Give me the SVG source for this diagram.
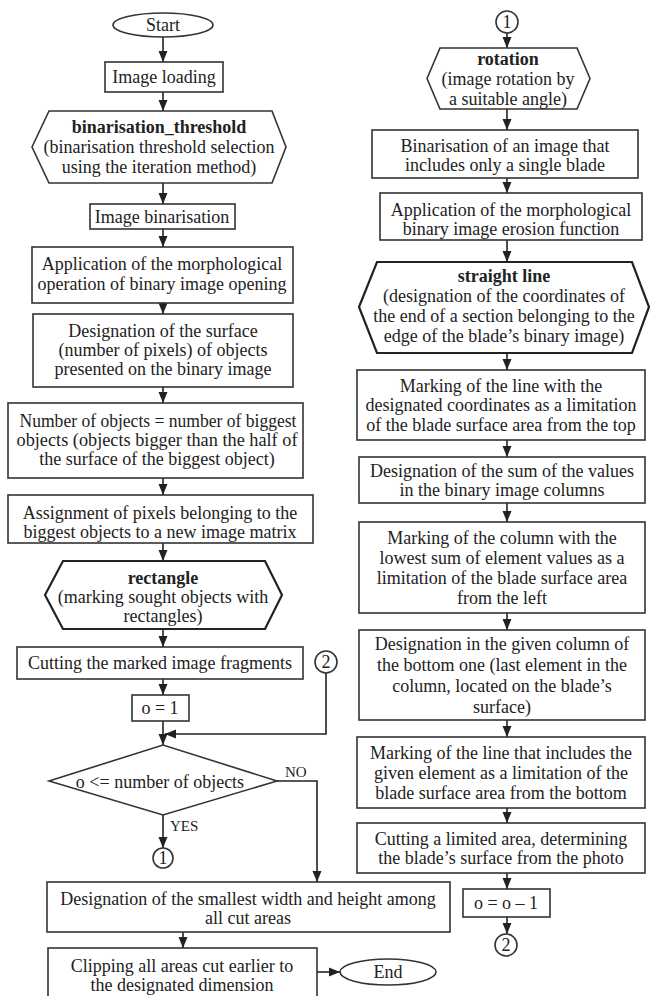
<svg xmlns="http://www.w3.org/2000/svg" width="650" height="996" viewBox="0 0 650 996">
<defs>
<marker id="ah" markerUnits="userSpaceOnUse" markerWidth="11" markerHeight="11" viewBox="0 0 11 11" refX="11" refY="5.5" orient="auto">
<path d="M0,1 L11,5.5 L0,10 Z" fill="#222"/>
</marker>
</defs>
<style>
.b{fill:#fff;stroke:#333;stroke-width:1.6}
.h{fill:#fff;stroke:#222;stroke-width:2.2}
.c{fill:none;stroke:#222;stroke-width:1.6}
text{font-family:"Liberation Serif","Times New Roman",serif;font-size:18px;fill:#222;text-anchor:middle;dominant-baseline:central}
.bd{font-weight:bold}
.s{text-anchor:start;font-size:15px}
</style>
<rect width="650" height="996" fill="#fff"/>
<g id="connectors">
<line class="c" x1="163" y1="37" x2="163" y2="62" marker-end="url(#ah)"/>
<line class="c" x1="163" y1="92" x2="163" y2="111" marker-end="url(#ah)"/>
<line class="c" x1="163" y1="183" x2="163" y2="204" marker-end="url(#ah)"/>
<line class="c" x1="163" y1="229" x2="163" y2="247" marker-end="url(#ah)"/>
<line class="c" x1="163" y1="303" x2="163" y2="314" marker-end="url(#ah)"/>
<line class="c" x1="163" y1="387" x2="163" y2="403" marker-end="url(#ah)"/>
<line class="c" x1="163" y1="478" x2="163" y2="495" marker-end="url(#ah)"/>
<line class="c" x1="163" y1="543" x2="163" y2="561" marker-end="url(#ah)"/>
<line class="c" x1="163" y1="629" x2="163" y2="647" marker-end="url(#ah)"/>
<line class="c" x1="163" y1="679" x2="163" y2="695" marker-end="url(#ah)"/>
<line class="c" x1="163" y1="721" x2="163" y2="745" marker-end="url(#ah)"/>
<polyline class="c" points="326,673 326,734 165,734" marker-end="url(#ah)"/>
<polyline class="c" points="277,781 317,781 317,882" marker-end="url(#ah)"/>
<line class="c" x1="163" y1="815" x2="163" y2="848" marker-end="url(#ah)"/>
<line class="c" x1="183" y1="932" x2="183" y2="948" marker-end="url(#ah)"/>
<line class="c" x1="317" y1="972" x2="340" y2="972" marker-end="url(#ah)"/>
<line class="c" x1="507" y1="33" x2="507" y2="48" marker-end="url(#ah)"/>
<line class="c" x1="507" y1="109" x2="507" y2="130" marker-end="url(#ah)"/>
<line class="c" x1="507" y1="178" x2="507" y2="193" marker-end="url(#ah)"/>
<line class="c" x1="507" y1="240" x2="507" y2="262" marker-end="url(#ah)"/>
<line class="c" x1="507" y1="353" x2="507" y2="370" marker-end="url(#ah)"/>
<line class="c" x1="507" y1="440" x2="507" y2="457" marker-end="url(#ah)"/>
<line class="c" x1="507" y1="503" x2="507" y2="522" marker-end="url(#ah)"/>
<line class="c" x1="507" y1="613" x2="507" y2="630" marker-end="url(#ah)"/>
<line class="c" x1="507" y1="720" x2="507" y2="737" marker-end="url(#ah)"/>
<line class="c" x1="507" y1="808" x2="507" y2="823" marker-end="url(#ah)"/>
<line class="c" x1="507" y1="873" x2="507" y2="889" marker-end="url(#ah)"/>
<line class="c" x1="507" y1="917" x2="507" y2="934" marker-end="url(#ah)"/>
<text class="s" x="285" y="772">NO</text>
<text class="s" x="170" y="826">YES</text>
</g>
<g id="start"><ellipse class="b" cx="163" cy="25" rx="50" ry="12"/><text x="163" y="25">Start</text></g>
<g id="load"><rect class="b" x="105" y="62" width="118" height="30"/><text x="164" y="77">Image loading</text></g>
<g id="thresh"><polygon class="b" points="32,147 49,111 272,111 286,147 272,183 49,183"/>
<text class="bd" x="159" y="127">binarisation_threshold</text><text x="159" y="147">(binarisation threshold selection</text><text x="159" y="167">using the iteration method)</text></g>
<g id="binar"><rect class="b" x="90" y="204" width="145" height="25"/><text x="162" y="217">Image binarisation</text></g>
<g id="open"><rect class="b" x="32" y="247" width="261" height="56"/><text x="162" y="264">Application of the morphological</text><text x="162" y="284">operation of binary image opening</text></g>
<g id="surface"><rect class="b" x="33" y="314" width="260" height="73"/><text x="163" y="331">Designation of the surface</text><text x="163" y="350">(number of pixels) of objects</text><text x="163" y="369">presented on the binary image</text></g>
<g id="count"><rect class="b" x="8" y="403" width="295" height="75"/><text x="158" y="421" textLength="277" lengthAdjust="spacingAndGlyphs">Number of objects = number of biggest</text><text x="157" y="440" textLength="281" lengthAdjust="spacingAndGlyphs">objects (objects bigger than the half of</text><text x="157" y="459">the surface of the biggest object)</text></g>
<g id="assign"><rect class="b" x="8" y="495" width="305" height="48"/><text x="160" y="513">Assignment of pixels belonging to the</text><text x="160" y="532">biggest objects to a new image matrix</text></g>
<g id="rect"><polygon class="h" points="45,595 63,561 265,561 282,595 265,629 63,629"/><text class="bd" x="163" y="578">rectangle</text><text x="163" y="597">(marking sought objects with</text><text x="163" y="616">rectangles)</text></g>
<g id="cut"><rect class="b" x="17" y="647" width="286" height="32"/><text x="160" y="663">Cutting the marked image fragments</text></g>
<g id="c2a"><circle class="b" cx="326" cy="662" r="11"/><text x="326" y="662">2</text></g>
<g id="init"><rect class="b" x="132" y="695" width="57" height="26"/><text x="160" y="708">o = 1</text></g>
<g id="cond"><polygon class="b" points="49,781 163,745 277,781 163,815"/><text x="160" y="782">o &lt;= number of objects</text></g>
<g id="c1a"><circle class="b" cx="163" cy="858" r="10"/><text x="163" y="858">1</text></g>
<g id="smallest"><rect class="b" x="47" y="882" width="403" height="50"/><text x="248" y="899">Designation of the smallest width and height among</text><text x="248" y="918">all cut areas</text></g>
<g id="clip"><rect class="b" x="48" y="948" width="269" height="60"/><text x="182" y="966">Clipping all areas cut earlier to</text><text x="182" y="985">the designated dimension</text></g>
<g id="end"><ellipse class="b" cx="388" cy="972" rx="48" ry="13"/><text x="388" y="972">End</text></g>
<g id="c1b"><circle class="b" cx="507" cy="22" r="11"/><text x="507" y="22">1</text></g>
<g id="rot"><polygon class="b" points="427,78.5 440,48 577,48 590,78.5 577,109 440,109"/><text class="bd" x="508" y="59">rotation</text><text x="508" y="79">(image rotation by</text><text x="508" y="99">a suitable angle)</text></g>
<g id="single"><rect class="b" x="372" y="130" width="266" height="48"/><text x="505" y="146">Binarisation of an image that</text><text x="505" y="165">includes only a single blade</text></g>
<g id="erosion"><rect class="b" x="380" y="193" width="262" height="47"/><text x="511" y="210">Application of the morphological</text><text x="511" y="229">binary image erosion function</text></g>
<g id="line"><polygon class="h" points="359,307 377,262 632,262 649,307 632,353 377,353"/><text class="bd" x="504" y="276">straight line</text><text x="504" y="296">(designation of the coordinates of</text><text x="504" y="316">the end of a section belonging to the</text><text x="504" y="336">edge of the blade’s binary image)</text></g>
<g id="top"><rect class="b" x="357" y="370" width="288" height="70"/><text x="501" y="386">Marking of the line with the</text><text x="501" y="405">designated coordinates as a limitation</text><text x="501" y="425">of the blade surface area from the top</text></g>
<g id="sum"><rect class="b" x="359" y="457" width="286" height="46"/><text x="502" y="471">Designation of the sum of the values</text><text x="502" y="490">in the binary image columns</text></g>
<g id="left"><rect class="b" x="359" y="522" width="286" height="91"/><text x="502" y="538">Marking of the column with the</text><text x="502" y="558">lowest sum of element values as a</text><text x="502" y="578">limitation of the blade surface area</text><text x="502" y="598">from the left</text></g>
<g id="bottom1"><rect class="b" x="359" y="630" width="286" height="90"/><text x="502" y="644">Designation in the given column of</text><text x="502" y="665">the bottom one (last element in the</text><text x="502" y="686">column, located on the blade’s</text><text x="502" y="707">surface)</text></g>
<g id="bottom2"><rect class="b" x="357" y="737" width="288" height="71"/><text x="501" y="753">Marking of the line that includes the</text><text x="501" y="773">given element as a limitation of the</text><text x="501" y="793">blade surface area from the bottom</text></g>
<g id="cutarea"><rect class="b" x="357" y="823" width="288" height="50"/><text x="501" y="839">Cutting a limited area, determining</text><text x="501" y="858">the blade’s surface from the photo</text></g>
<g id="dec"><rect class="b" x="463" y="889" width="87" height="28"/><text x="506" y="903">o = o – 1</text></g>
<g id="c2b"><circle class="b" cx="506" cy="945" r="11"/><text x="506" y="945">2</text></g>
</svg>
